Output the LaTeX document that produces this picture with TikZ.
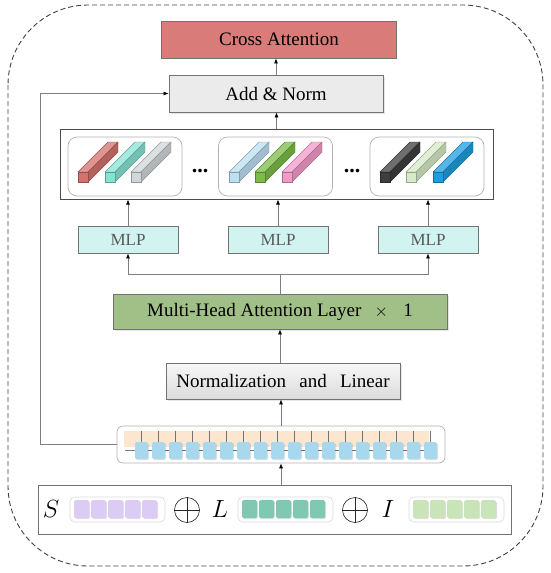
\documentclass[tikz,border=0pt]{standalone}
\usepackage{fontspec}
\setmainfont{Liberation Serif}
\usetikzlibrary{arrows.meta,shadows}

\definecolor{crossred}{HTML}{D97B78}
\definecolor{normgray}{HTML}{EBEBEB}
\definecolor{mlpcyan}{HTML}{D2F4F0}
\definecolor{mhagreen}{HTML}{A0C088}
\definecolor{tokorange}{HTML}{FCE6D0}
\definecolor{tokblue}{HTML}{A8D8EE}
\definecolor{inpurple}{HTML}{DCCBF4}
\definecolor{inteal}{HTML}{80C8B2}
\definecolor{ingreen}{HTML}{C9E4B8}
\definecolor{linegray}{HTML}{7F7F7F}
% bar colours
\definecolor{barred}{HTML}{D4716D}
\definecolor{barteal}{HTML}{86E3D3}
\definecolor{bargray}{HTML}{D2D6D8}
\definecolor{barsky}{HTML}{BCE0F2}
\definecolor{bargreen}{HTML}{7DBB48}
\definecolor{barpink}{HTML}{F29BC9}
\definecolor{barblack}{HTML}{3E3E3E}
\definecolor{barpale}{HTML}{D6EAC6}
\definecolor{barblue}{HTML}{1E9EE0}

% a feature bar as a small cuboid: front square at (#1,#2), colour #3
\newcommand{\cuboid}[3]{%
  \filldraw[fill=#3!75!white, draw=#3!70!black, line width=0.4pt]
    (#1,#2) -- ++(30,-30) -- ++(10,0) -- (#1+10,#2) -- cycle;
  \filldraw[fill=#3!85!black, draw=#3!70!black, line width=0.4pt]
    (#1+10,#2) -- ++(30,-30) -- ++(0,10) -- (#1+10,#2+10) -- cycle;
  \filldraw[fill=#3, draw=#3!70!black, line width=0.4pt]
    (#1,#2) rectangle ++(10,10);
}

\tikzset{
  block/.style={draw=black!55, line width=0.8pt, inner sep=0pt,
    font=\fontsize{19}{22}\selectfont},
  arr/.style={draw=linegray, line width=0.7pt,
    -{Latex[length=5pt,width=4pt,color=black]}},
  link/.style={draw=linegray, line width=0.7pt},
  subbox/.style={draw=black!30, line width=0.7pt, rounded corners=9pt,
    minimum width=114pt, minimum height=59pt, inner sep=0pt},
  mlpbox/.style={block, fill=mlpcyan, text=black!65,
    minimum width=100pt, minimum height=27pt,
    font=\fontsize{17}{20}\selectfont},
  cellshadow/.style={drop shadow={shadow xshift=1pt, shadow yshift=-1pt, opacity=0.25}},
  sym/.style={inner sep=0pt, font=\fontsize{27}{30}\selectfont},
  dotsnode/.style={inner sep=0pt, font=\fontsize{22}{24}\selectfont\bfseries}
}

\begin{document}
\begin{tikzpicture}[x=1pt,y=-1pt]
\useasboundingbox (0,0) rectangle (550,573);

% outer frame
\draw[black!75, line width=0.9pt, dash pattern=on 5pt off 3pt, rounded corners=80pt]
  (8,5) rectangle (543,566);

% blocks
\node[block, fill=crossred, minimum width=235pt, minimum height=37pt] (cross) at (279,39.5) {Cross Attention};
\node[block, fill=normgray, minimum width=214pt, minimum height=37pt,
  drop shadow={shadow xshift=1.5pt, shadow yshift=-1.5pt, opacity=0.2}] (add) at (276,93.5) {Add \& Norm};

\node[draw=black!70, line width=1pt, minimum width=433pt, minimum height=70pt, inner sep=0pt] (big) at (276.5,164) {};
\node[subbox] (heads1) at (125,166.5) {};
\node[subbox] (heads2) at (275.5,166.5) {};
\node[subbox] (heads3) at (427,166.5) {};
\node[dotsnode] (dots1) at (200,171) {...};
\node[dotsnode] (dots2) at (352,171) {...};

\cuboid{78}{172}{barred}
\cuboid{105}{172}{barteal}
\cuboid{131}{172}{bargray}
\cuboid{229}{172}{barsky}
\cuboid{255}{172}{bargreen}
\cuboid{282}{172}{barpink}
\cuboid{380}{172}{barblack}
\cuboid{406}{172}{barpale}
\cuboid{433}{172}{barblue}

\node[mlpbox] (mlp1) at (128,239.5) {MLP};
\node[mlpbox] (mlp2) at (278,239.5) {MLP};
\node[mlpbox] (mlp3) at (428,239.5) {MLP};

\node[block, fill=mhagreen, minimum width=334pt, minimum height=35pt,
  drop shadow={shadow xshift=1.5pt, shadow yshift=-1.5pt, opacity=0.2}] (mha) at (280,311.5)
  {Multi-Head Attention Layer\hspace{0.7em}$\times$\hspace{0.8em}1};

\node[block, top color=black!3, bottom color=black!14, minimum width=234pt, minimum height=36pt,
  drop shadow={shadow xshift=1.5pt, shadow yshift=-1.5pt, opacity=0.2}] (norm) at (283,381)
  {Normalization\hspace{0.7em}and\hspace{0.7em}Linear};

% token sequence
\node[draw=black!30, line width=0.7pt, rounded corners=6pt, minimum width=328pt, minimum height=37pt,
  inner sep=0pt] (tokens) at (281,444.5) {};
\fill[tokorange] (124,431) rectangle (429,447);
\draw[link, line width=0.5pt] (125,450) -- (135,450);
\foreach \k in {0,...,17} {
  \draw[black!55, line width=0.5pt] (141+17*\k,431) -- ++(0,11);
  \fill[tokblue, rounded corners=1.5pt, cellshadow] (135+17*\k,442) rectangle ++(13,17);
}
\foreach \k in {0,...,16}
  \draw[black!55, line width=0.5pt] (148+17*\k,450) -- ++(4,0);

% input embeddings
\node[draw=black!55, line width=0.8pt, minimum width=473pt, minimum height=49pt, inner sep=0pt] (input) at (274.5,509.5) {};
\node[sym] (symS) at (51,509) {$S$};
\node[sym] (symL) at (220,509) {$L$};
\node[sym] (symI) at (388,509) {$I$};
\node[circle, draw=black!85, line width=0.6pt, minimum size=25pt, inner sep=0pt] (plus1) at (187,510) {};
\node[circle, draw=black!85, line width=0.6pt, minimum size=25pt, inner sep=0pt] (plus2) at (355,510) {};
\draw[black!85, line width=0.6pt] (plus1.north) -- (plus1.south) (plus1.west) -- (plus1.east);
\draw[black!85, line width=0.6pt] (plus2.north) -- (plus2.south) (plus2.west) -- (plus2.east);
\foreach \gx/\col in {70/inpurple, 238/inteal, 409/ingreen} {
  \draw[black!15, line width=0.6pt, rounded corners=5pt] (\gx,497) rectangle ++(95,25);
  \foreach \k in {0,...,4}
    \fill[\col, rounded corners=1.5pt, cellshadow] (\gx+4+17*\k,500) rectangle ++(15,18);
}

% connectors
\draw[arr] (add.north) -- (add.north |- cross.south);
\draw[arr] (big.north) -- (big.north |- add.south);
\draw[arr] (mlp1.north) -- (mlp1.north |- big.south);
\draw[arr] (mlp2.north) -- (mlp2.north |- big.south);
\draw[arr] (mlp3.north) -- (mlp3.north |- big.south);
\coordinate (split) at (280,274);
\draw[link] (mha.north) -- (split);
\draw[arr] (split) -| (mlp1.south);
\draw[arr] (split) -| (mlp3.south);
\draw[arr] (norm.north -| mha.south) -- (mha.south);
\draw[arr] (tokens.north) -- (tokens.north |- norm.south);
\draw[arr] (input.north -| tokens.south) -- (tokens.south);
\draw[arr] (tokens.west) -- ++(-76,0) |- (add.west);
\end{tikzpicture}
\end{document}
